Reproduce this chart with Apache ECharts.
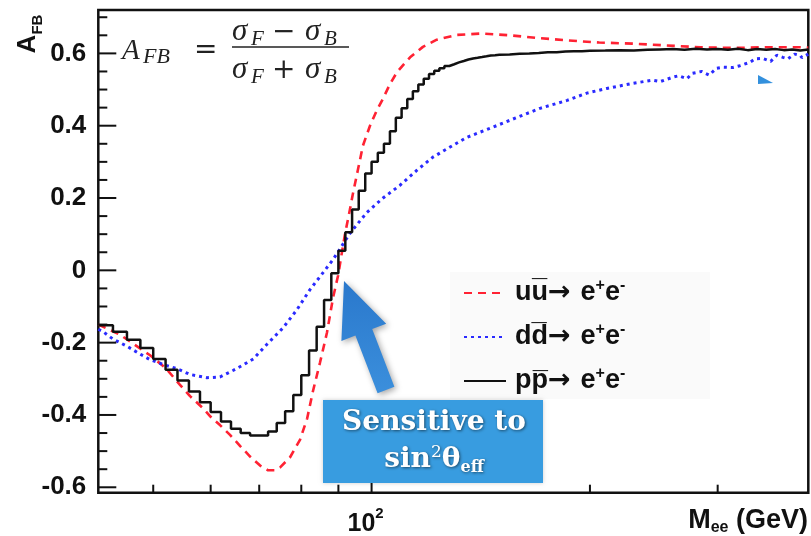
<!DOCTYPE html>
<html><head><meta charset="utf-8">
<script src="https://cdn.jsdelivr.net/npm/echarts@6/dist/echarts.min.js"></script>
<style>html,body{margin:0;padding:0;background:#fff}#c{width:811px;height:536px}</style>
</head><body><div id="c"></div>
<script>
// ---- axis ranges ----
const xMin = 42, xMax = 400, yMin = -0.615, yMax = 0.72;

// ---- p pbar -> e+e- (histogram, bin left edges and values) ----
const ppEdges = [42,44,46,48,50,52,54,56,58,60,62,64,66,68,70,72,74,76,78,80,82,84,86,88,90,92,94,96,98,100,102,104,106,108,110,112,114,116,118,120,122,124,126,128,130,132,134,136,138,140,142,144,146,148,150,155,160,165,170,175,180,185,190,195,200,210,220,230,240,250,260,270,280,290,300,310,320,330,340,350,360,370,380,390,400];
const ppValues = [-0.152,-0.170,-0.192,-0.215,-0.245,-0.275,-0.305,-0.335,-0.365,-0.392,-0.418,-0.438,-0.450,-0.457,-0.457,-0.446,-0.422,-0.390,-0.345,-0.290,-0.222,-0.156,-0.082,-0.008,0.054,0.105,0.168,0.220,0.268,0.300,0.325,0.350,0.385,0.422,0.448,0.474,0.495,0.514,0.530,0.543,0.552,0.559,0.565,0.570,0.575,0.579,0.583,0.586,0.588,0.590,0.592,0.594,0.595,0.596,0.597,0.599,0.600,0.601,0.603,0.603,0.605,0.606,0.606,0.607,0.608,0.609,0.608,0.610,0.611,0.612,0.610,0.613,0.611,0.612,0.610,0.613,0.609,0.612,0.610,0.612,0.609,0.611,0.608,0.611,0.611];

// ---- u ubar -> e+e- ----
const uuMass = [42,45,49.5,52,54.4,56.2,58.6,60,61.8,63.8,65.9,68,70.2,72,73.5,74.8,77.2,79.7,81.5,83,84.9,86.8,88.5,89.9,91.9,93.4,94.2,95.8,97.3,99.5,101.7,103.7,106,108.4,111,113,117.7,123,131,142,155,171,186,206,229,255,284,315,351,390,400];
const uuAfb = [-0.15,-0.178,-0.235,-0.27,-0.316,-0.348,-0.382,-0.405,-0.428,-0.455,-0.486,-0.515,-0.54,-0.553,-0.553,-0.545,-0.517,-0.468,-0.41,-0.335,-0.255,-0.172,-0.075,-0.015,0.1,0.17,0.21,0.28,0.345,0.40,0.443,0.475,0.515,0.548,0.572,0.589,0.618,0.638,0.651,0.655,0.650,0.642,0.636,0.630,0.627,0.622,0.617,0.615,0.617,0.617,0.616];

// ---- d dbar -> e+e- ----
const ddMass = [42,42.6,44,46,48,49.5,51.9,53.9,56.2,59.3,61.8,64.4,66.5,68.7,71.7,75.5,78.9,82.2,86.2,88.5,93.4,98.5,103.7,109.4,115.5,121.5,128.3,135.4,147,158.7,170.7,186,198,211,229,244,250,260,265,272,277,285,292,299,305,315,322,332,338,346,355,362,369,375,383,390,392,400];
const ddAfb = [-0.163,-0.169,-0.19,-0.21,-0.232,-0.247,-0.262,-0.272,-0.288,-0.297,-0.295,-0.277,-0.262,-0.245,-0.205,-0.159,-0.109,-0.054,0.0,0.03,0.103,0.16,0.2,0.235,0.277,0.313,0.341,0.368,0.396,0.423,0.448,0.47,0.49,0.503,0.517,0.526,0.522,0.534,0.538,0.53,0.545,0.55,0.54,0.559,0.562,0.561,0.566,0.575,0.585,0.586,0.578,0.595,0.589,0.585,0.598,0.594,0.588,0.598];

// ---- ticks ----
const yMajorTicks = [-0.6,-0.4,-0.2,0,0.2,0.4,0.6];
const yTickLabels = ['-0.6','-0.4','-0.2','0','0.2','0.4','0.6'];
const yMinorTicks = [-0.55,-0.5,-0.45,-0.35,-0.3,-0.25,-0.15,-0.1,-0.05,0.05,0.1,0.15,0.25,0.3,0.35,0.45,0.5,0.55,0.65,0.7];
const xMajorTicks = [100];
const xMinorTicks = [50,60,70,80,90,200,300];

// ---- legend ----
const seriesNames = ['uu','dd','pp'];
const legendText = {
  uu: '{t|uu\u0305}{a|\u2192}{t|e}{s|+}{t|e}{s|-}',
  dd: '{t|dd\u0305}{a|\u2192}{t|e}{s|+}{t|e}{s|-}',
  pp: '{t|pp\u0305}{a|\u2192}{t|e}{s|+}{t|e}{s|-}'
};

const SANS = '"Liberation Sans", Arial, sans-serif';
const SERIF = '"Liberation Serif", "DejaVu Serif", serif';
const INK = '#111';

const chart = echarts.init(document.getElementById('c'), null, {renderer: 'canvas'});

function tickSeries(values, isY, major) {
  return {
    type: 'custom', coordinateSystem: 'cartesian2d', silent: true, clip: false, z: 6,
    data: values.map((v, i) => isY ? [xMin, v, i] : [v, yMin, i]),
    renderItem: function (params, api) {
      const p = api.coord([api.value(0), api.value(1)]);
      const idx = api.value(2);
      const children = [];
      if (isY) {
        const len = major ? 18 : 9;
        children.push({type: 'line', shape: {x1: p[0], y1: p[1], x2: p[0] + len, y2: p[1]}, style: {stroke: INK, lineWidth: 2}});
        if (major) children.push({type: 'text', x: p[0] - 12, y: p[1], style: {text: yTickLabels[idx], align: 'right', verticalAlign: 'middle', fontFamily: SANS, fontWeight: 'bold', fontSize: 26, fill: INK}});
      } else {
        const len = major ? 13 : 8;
        children.push({type: 'line', shape: {x1: p[0], y1: p[1], x2: p[0], y2: p[1] - len}, style: {stroke: INK, lineWidth: 2}});
        if (major) children.push({type: 'text', x: p[0] - 6, y: p[1] + 14, style: {
          text: '{a|10}{b|2}', align: 'center', verticalAlign: 'top',
          rich: {a: {fontFamily: SANS, fontWeight: 'bold', fontSize: 25, fill: INK, verticalAlign: 'bottom', lineHeight: 30},
                 b: {fontFamily: SANS, fontWeight: 'bold', fontSize: 15, fill: INK, verticalAlign: 'top', lineHeight: 16}}
        }});
      }
      return {type: 'group', children: children};
    }
  };
}

const option = {
  animation: false,
  backgroundColor: '#fff',
  grid: {left: 98.3, right: 2.7, top: 10, bottom: 43.3, show: true, borderColor: INK, borderWidth: 2.5, backgroundColor: 'transparent'},
  xAxis: {type: 'log', logBase: 10, min: xMin, max: xMax, axisLine: {show: false}, axisTick: {show: false}, axisLabel: {show: false}, splitLine: {show: false}, minorTick: {show: false}},
  yAxis: {type: 'value', min: yMin, max: yMax, axisLine: {show: false}, axisTick: {show: false}, axisLabel: {show: false}, splitLine: {show: false}},
  legend: {
    data: seriesNames, orient: 'vertical', left: 458, top: 273, itemWidth: 42, itemHeight: 14, itemGap: 14,
    itemStyle: {opacity: 0, color: 'transparent', borderWidth: 0},
    formatter: n => legendText[n],
    textStyle: {color: INK, padding: [0, 0, 0, 4], lineHeight: 30,
      rich: {t: {fontFamily: SANS, fontWeight: 'bold', fontSize: 27, color: INK, lineHeight: 30},
             a: {fontFamily: '"DejaVu Sans", sans-serif', fontWeight: 'bold', fontSize: 27, color: INK, lineHeight: 30, padding: [0, 10, 0, 0]},
             s: {fontFamily: SANS, fontWeight: 'bold', fontSize: 16, color: INK, verticalAlign: 'top', lineHeight: 14}}}
  },
  series: [
    {name: 'uu', type: 'line', symbol: 'none', z: 3, data: uuMass.map((m, i) => [m, uuAfb[i]]),
     lineStyle: {color: '#ff2233', width: 2.6, type: [8, 6]}, itemStyle: {color: '#ff2233'}},
    {name: 'dd', type: 'line', symbol: 'none', z: 3, data: ddMass.map((m, i) => [m, ddAfb[i]]),
     lineStyle: {color: '#2a2aff', width: 3, type: [3, 4]}, itemStyle: {color: '#2a2aff'}},
    {name: 'pp', type: 'line', symbol: 'none', step: 'end', z: 4, data: ppEdges.map((m, i) => [m, ppValues[i]]),
     lineStyle: {color: INK, width: 2.5}, itemStyle: {color: INK}},
    tickSeries(yMajorTicks, true, true),
    tickSeries(yMinorTicks, true, false),
    tickSeries(xMajorTicks, false, true),
    tickSeries(xMinorTicks, false, false)
  ],
  graphic: [
    // faint legend background
    {type: 'rect', z: 1, silent: true, shape: {x: 450, y: 272, width: 260, height: 127}, style: {fill: '#fafafa'}},
    // formula
    {type: 'text', z: 20, x: 122, y: 51, style: {text: 'A', fontFamily: SERIF, fontStyle: 'italic', fontSize: 29, fill: '#222', verticalAlign: 'middle'}},
    {type: 'text', z: 20, x: 143, y: 57, style: {text: 'FB', fontFamily: SERIF, fontStyle: 'italic', fontSize: 22, fill: '#222', verticalAlign: 'middle'}},
    {type: 'text', z: 20, x: 194, y: 51, style: {text: '=', fontFamily: '"DejaVu Serif", serif', fontSize: 28, fill: '#222', verticalAlign: 'middle'}},
    {type: 'text', z: 20, x: 232, y: 32, style: {text: '\u03c3', fontFamily: SERIF, fontStyle: 'italic', fontSize: 31, fill: '#222', verticalAlign: 'middle'}},
    {type: 'text', z: 20, x: 251, y: 39, style: {text: 'F', fontFamily: SERIF, fontStyle: 'italic', fontSize: 21, fill: '#222', verticalAlign: 'middle'}},
    {type: 'text', z: 20, x: 272, y: 33, style: {text: '\u2212', fontFamily: '"DejaVu Serif", serif', fontSize: 28, fill: '#222', verticalAlign: 'middle'}},
    {type: 'text', z: 20, x: 305, y: 32, style: {text: '\u03c3', fontFamily: SERIF, fontStyle: 'italic', fontSize: 31, fill: '#222', verticalAlign: 'middle'}},
    {type: 'text', z: 20, x: 324, y: 39, style: {text: 'B', fontFamily: SERIF, fontStyle: 'italic', fontSize: 21, fill: '#222', verticalAlign: 'middle'}},
    {type: 'line', z: 20, shape: {x1: 232, y1: 47, x2: 349, y2: 47}, style: {stroke: '#222', lineWidth: 1.6}},
    {type: 'text', z: 20, x: 232, y: 70, style: {text: '\u03c3', fontFamily: SERIF, fontStyle: 'italic', fontSize: 31, fill: '#222', verticalAlign: 'middle'}},
    {type: 'text', z: 20, x: 251, y: 77, style: {text: 'F', fontFamily: SERIF, fontStyle: 'italic', fontSize: 21, fill: '#222', verticalAlign: 'middle'}},
    {type: 'text', z: 20, x: 272, y: 71, style: {text: '+', fontFamily: '"DejaVu Serif", serif', fontSize: 28, fill: '#222', verticalAlign: 'middle'}},
    {type: 'text', z: 20, x: 305, y: 70, style: {text: '\u03c3', fontFamily: SERIF, fontStyle: 'italic', fontSize: 31, fill: '#222', verticalAlign: 'middle'}},
    {type: 'text', z: 20, x: 324, y: 77, style: {text: 'B', fontFamily: SERIF, fontStyle: 'italic', fontSize: 21, fill: '#222', verticalAlign: 'middle'}},
    // y axis title
    {type: 'text', z: 20, x: 30, y: 34, rotation: Math.PI / 2, style: {
      text: '{a|A}{b|FB}', align: 'center', verticalAlign: 'middle',
      rich: {a: {fontFamily: SANS, fontWeight: 'bold', fontSize: 26, fill: INK, verticalAlign: 'top', lineHeight: 30},
             b: {fontFamily: SANS, fontWeight: 'bold', fontSize: 15, fill: INK, verticalAlign: 'bottom', lineHeight: 16}}}},
    // x axis title
    {type: 'text', z: 20, x: 808, y: 521, style: {
      text: '{a|M}{b|ee}{a| (GeV)}', align: 'right', verticalAlign: 'middle',
      rich: {a: {fontFamily: SANS, fontWeight: 'bold', fontSize: 27, fill: INK, lineHeight: 30},
             b: {fontFamily: SANS, fontWeight: 'bold', fontSize: 16, fill: INK, verticalAlign: 'bottom', lineHeight: 18}}}},
    // arrow
    {type: 'polygon', z: 15, silent: true,
     shape: {points: [[344, 281], [386.2, 323.7], [372.2, 329.1], [394.4, 386.8], [377.6, 393.2], [355.4, 335.5], [341.4, 340.9]]},
     style: {fill: {type: 'linear', x: 0, y: 0, x2: 0, y2: 1, colorStops: [{offset: 0, color: '#2a78cc'}, {offset: 1, color: '#3b8fdc'}]},
             shadowBlur: 6, shadowColor: 'rgba(0,0,0,0.35)', shadowOffsetX: 2, shadowOffsetY: 2}},
    // small arrow fragment at top right
    {type: 'polygon', z: 15, silent: true, shape: {points: [[758, 75], [773, 83], [758, 84]]}, style: {fill: '#3390dd'}},
    // blue box
    {type: 'rect', z: 16, silent: true, shape: {x: 323, y: 400, width: 220, height: 83},
     style: {fill: '#389ce0', shadowBlur: 4, shadowColor: 'rgba(0,0,0,0.2)'}},
    {type: 'text', z: 17, x: 434, y: 423, style: {text: 'Sensitive to', align: 'center', verticalAlign: 'middle',
      fontFamily: '"DejaVu Serif", serif', fontWeight: 'bold', fontSize: 28, fill: '#fff',
      textShadowColor: 'rgba(0,0,0,0.55)', textShadowBlur: 3, textShadowOffsetX: 1, textShadowOffsetY: 1}},
    {type: 'text', z: 17, x: 434, y: 460, style: {text: '{n|sin}{p|2}{n|\u03b8}{b|eff}', align: 'center', verticalAlign: 'middle',
      textShadowColor: 'rgba(0,0,0,0.55)', textShadowBlur: 3, textShadowOffsetX: 1, textShadowOffsetY: 1,
      rich: {n: {fontFamily: '"DejaVu Serif", serif', fontWeight: 'bold', fontSize: 28, fill: '#fff', lineHeight: 32},
             p: {fontFamily: '"DejaVu Serif", serif', fontSize: 17, fill: '#fff', verticalAlign: 'top', lineHeight: 16},
             b: {fontFamily: '"DejaVu Serif", serif', fontWeight: 'bold', fontSize: 16, fill: '#fff', verticalAlign: 'bottom', lineHeight: 16}}}}
  ]
};
chart.setOption(option);
</script>
</body></html>
